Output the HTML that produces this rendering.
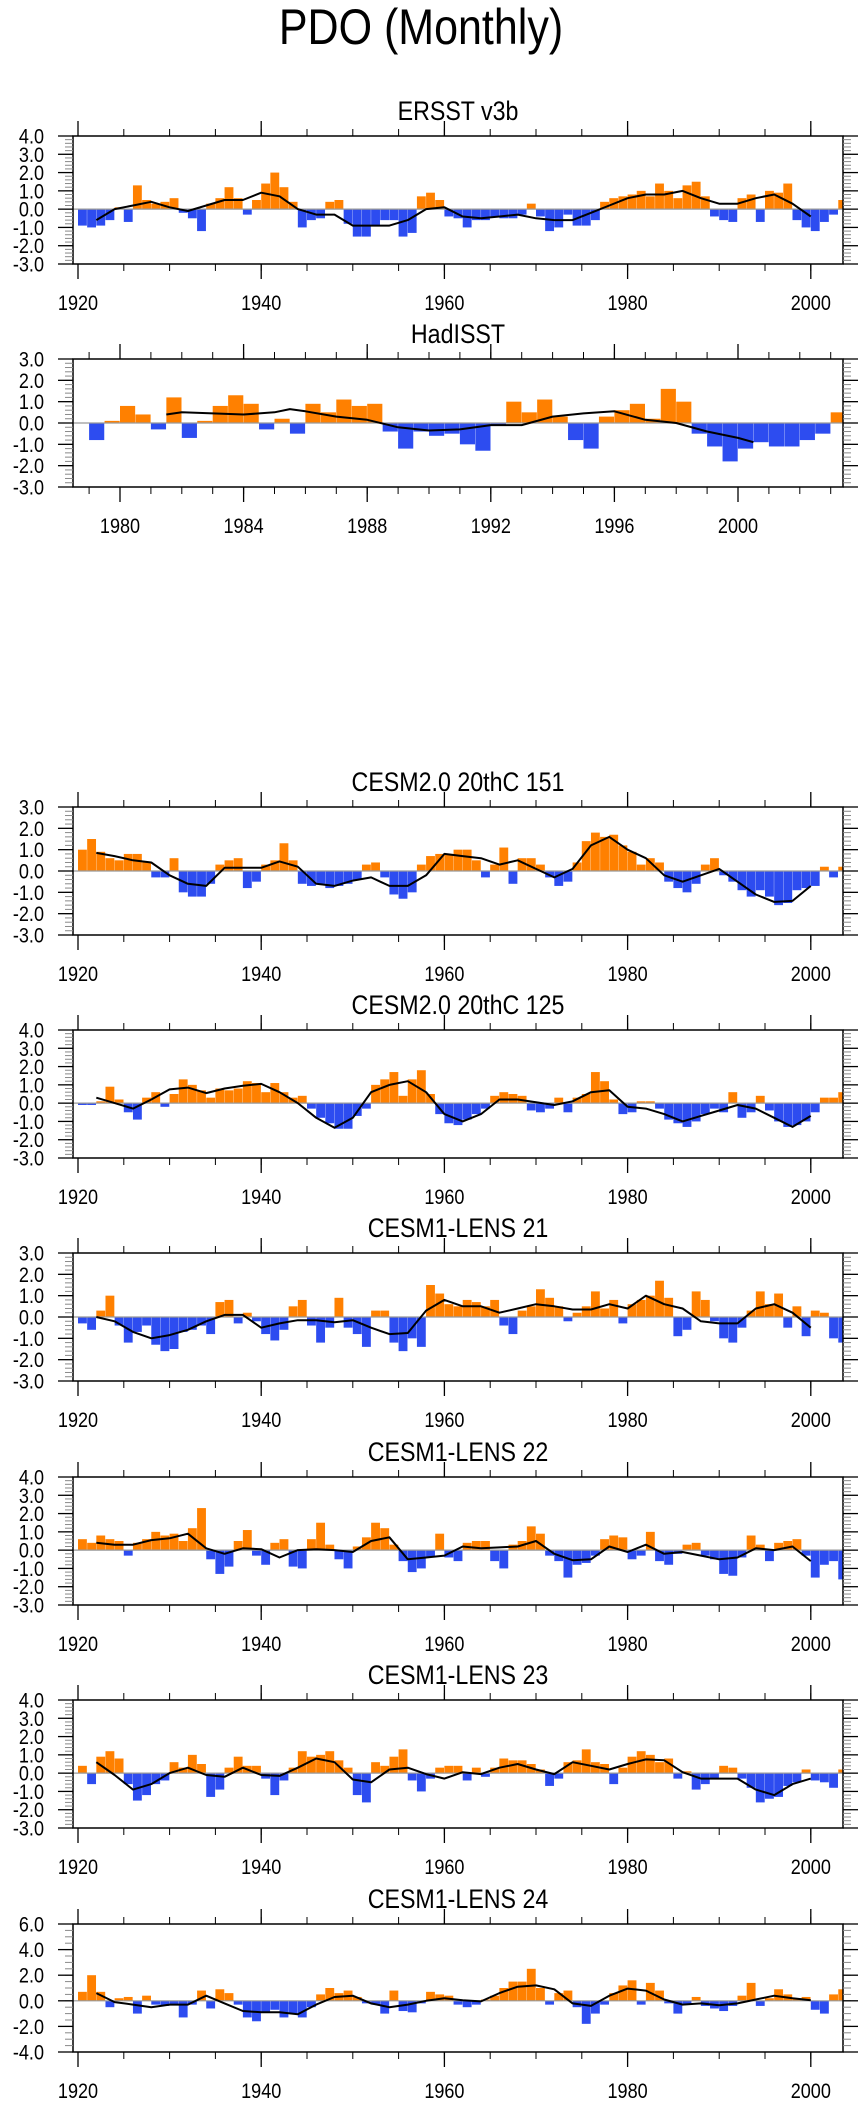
<!DOCTYPE html>
<html><head><meta charset="utf-8">
<style>
html,body{margin:0;padding:0;background:#fff;}
svg{display:block;}
text{font-family:"Liberation Sans",Arial,sans-serif;fill:#000;}
</style></head>
<body>
<svg id="chart" width="867" height="2107" viewBox="0 0 867 2107" xmlns="http://www.w3.org/2000/svg">
<text transform="translate(421,44) scale(0.86,1)" x="0" y="0" font-size="50" text-anchor="middle">PDO (Monthly)</text>
</svg>
<script>
// ---- data (annual / half-year bar values, smoothed line values) ----
const smoothYears = [1922,1924,1926,1928,1930,1932,1934,1936,1938,1940,1942,1944,1946,1948,1950,1952,1954,1956,1958,1960,1962,1964,1966,1968,1970,1972,1974,1976,1978,1980,1982,1984,1986,1988,1990,1992,1994,1996,1998,2000];

const ersstVals = [-0.9,-1.0,-0.9,-0.6,0.1,-0.7,1.3,0.5,0.3,0.4,0.6,-0.2,-0.5,-1.2,0.3,0.6,1.2,0.6,-0.3,0.5,1.4,2.0,1.2,0.4,-1.0,-0.6,-0.5,0.4,0.5,-0.8,-1.5,-1.5,-0.9,-0.6,-0.6,-1.5,-1.3,0.7,0.9,0.5,-0.4,-0.5,-1.0,-0.6,-0.6,-0.4,-0.5,-0.5,-0.3,0.3,-0.4,-1.2,-1.0,-0.3,-0.9,-0.9,-0.6,0.4,0.6,0.7,0.8,1.0,0.7,1.4,1.0,0.6,1.3,1.5,0.7,-0.4,-0.6,-0.7,0.6,0.8,-0.7,1.0,0.9,1.4,-0.6,-1.0,-1.2,-0.7,-0.3,0.5];
const ersstSmooth = [-0.6,0.0,0.2,0.4,0.1,-0.1,0.2,0.5,0.5,0.9,0.7,0.0,-0.3,-0.3,-0.9,-0.9,-0.9,-0.6,0.0,0.1,-0.4,-0.5,-0.4,-0.3,-0.5,-0.6,-0.6,-0.2,0.2,0.6,0.8,0.8,1.0,0.6,0.3,0.3,0.6,0.8,0.3,-0.4];

const hadYears = [1979.0,1979.5,1980.0,1980.5,1981.0,1981.5,1982.0,1982.5,1983.0,1983.5,1984.0,1984.5,1985.0,1985.5,1986.0,1986.5,1987.0,1987.5,1988.0,1988.5,1989.0,1989.5,1990.0,1990.5,1991.0,1991.5,1992.0,1992.5,1993.0,1993.5,1994.0,1994.5,1995.0,1995.5,1996.0,1996.5,1997.0,1997.5,1998.0,1998.5,1999.0,1999.5,2000.0,2000.5,2001.0,2001.5,2002.0,2002.5,2003.0];
const hadVals = [-0.8,0.1,0.8,0.4,-0.3,1.2,-0.7,0.1,0.8,1.3,0.9,-0.3,0.2,-0.5,0.9,0.5,1.1,0.8,0.9,-0.4,-1.2,-0.4,-0.6,-0.5,-1.0,-1.3,-0.1,1.0,0.5,1.1,0.3,-0.8,-1.2,0.3,0.6,0.9,0.2,1.6,1.0,-0.5,-1.1,-1.8,-1.2,-0.9,-1.1,-1.1,-0.8,-0.5,0.5];
const hadSmoothYears = [1981.5,1982,1983,1984,1985,1985.5,1986,1987,1988,1989,1990,1991,1992,1993,1994,1995,1996,1997,1998,1999,2000,2000.5];
const hadSmooth = [0.4,0.5,0.45,0.4,0.5,0.65,0.55,0.3,0.15,-0.2,-0.35,-0.3,-0.1,-0.1,0.3,0.45,0.55,0.15,0.0,-0.4,-0.7,-0.9];

const c151Vals = [1.0,1.5,0.9,0.6,0.5,0.8,0.8,0.4,-0.3,-0.3,0.6,-1.0,-1.2,-1.2,-0.6,0.3,0.5,0.6,-0.8,-0.5,0.3,0.5,1.3,0.5,-0.6,-0.7,-0.6,-0.8,-0.7,-0.6,-0.4,0.3,0.4,-0.3,-1.1,-1.3,-1.0,0.3,0.7,0.8,0.8,1.0,1.0,0.5,-0.3,0.3,1.1,-0.6,0.6,0.6,0.3,-0.3,-0.7,-0.5,0.4,1.4,1.8,1.6,1.7,1.2,0.9,0.3,0.6,0.4,-0.5,-0.8,-1.0,-0.6,0.3,0.6,-0.2,-0.5,-0.9,-1.2,-0.9,-1.2,-1.6,-1.5,-0.9,-0.8,-0.7,0.2,-0.3,0.2];
const c151Smooth = [0.85,0.7,0.5,0.4,-0.2,-0.6,-0.7,0.15,0.15,0.15,0.45,0.2,-0.6,-0.7,-0.45,-0.3,-0.7,-0.7,-0.2,0.8,0.7,0.6,0.3,0.5,0.1,-0.3,0.1,1.2,1.6,1.0,0.6,-0.2,-0.5,-0.2,0.1,-0.5,-1.1,-1.45,-1.4,-0.7];

const c125Vals = [-0.1,-0.1,0.1,0.9,0.2,-0.5,-0.9,0.3,0.6,-0.2,0.5,1.3,1.0,0.7,0.3,0.8,0.7,0.8,1.2,1.1,0.6,1.1,0.6,0.3,0.4,-0.3,-0.8,-1.1,-1.4,-1.4,-0.7,-0.3,1.0,1.3,1.7,0.4,1.3,1.8,0.5,-0.6,-1.1,-1.2,-0.9,-0.6,-0.3,0.4,0.6,0.5,0.4,-0.4,-0.5,-0.3,0.3,-0.5,0.3,0.5,1.7,1.2,0.2,-0.6,-0.5,0.1,0.1,-0.3,-0.9,-1.1,-1.3,-1.0,-0.6,-0.3,-0.5,0.6,-0.8,-0.5,0.4,-0.4,-1.0,-1.3,-1.2,-1.0,-0.5,0.3,0.3,0.6];
const c125Smooth = [0.3,0.0,-0.3,0.2,0.75,0.85,0.55,0.8,0.95,1.05,0.6,0.0,-0.8,-1.35,-0.8,0.6,1.0,1.2,0.6,-0.6,-1.0,-0.6,0.2,0.2,0.05,-0.1,0.1,0.6,0.7,-0.2,-0.3,-0.6,-1.0,-0.7,-0.4,-0.1,-0.3,-0.8,-1.3,-0.7];

const l21Vals = [-0.3,-0.6,0.3,1.0,-0.4,-1.2,-0.7,-0.4,-1.3,-1.6,-1.5,-0.7,-0.6,-0.4,-0.8,0.7,0.8,-0.3,0.2,-0.2,-0.8,-1.1,-0.6,0.5,0.8,-0.4,-1.2,-0.5,0.9,-0.5,-0.8,-1.4,0.3,0.3,-1.2,-1.6,-1.0,-1.4,1.5,1.1,0.6,0.5,0.8,0.7,0.5,0.8,-0.4,-0.8,0.3,0.5,1.3,0.9,0.5,-0.2,0.2,0.5,1.2,0.4,0.8,-0.3,0.6,0.8,1.0,1.7,0.9,-0.9,-0.6,1.2,0.8,-0.2,-1.0,-1.2,-0.5,0.3,1.2,0.6,1.1,-0.5,0.5,-0.9,0.3,0.2,-1.0,-1.2];
const l21Smooth = [0.0,-0.2,-0.7,-1.0,-0.85,-0.6,-0.2,0.1,0.1,-0.5,-0.3,-0.15,-0.15,-0.25,-0.15,-0.5,-0.8,-0.75,0.3,0.8,0.5,0.5,0.2,0.4,0.6,0.5,0.35,0.35,0.6,0.4,1.0,0.6,0.4,-0.2,-0.3,-0.3,0.4,0.6,0.2,-0.5];

const l22Vals = [0.6,0.4,0.8,0.6,0.5,-0.3,0.4,0.6,1.0,0.8,0.9,0.5,1.2,2.3,-0.5,-1.3,-0.9,0.5,1.1,-0.3,-0.8,0.4,0.6,-0.9,-1.0,0.6,1.5,0.3,-0.5,-1.0,0.2,0.7,1.5,1.2,0.3,-0.6,-1.2,-1.0,-0.4,0.9,-0.4,-0.6,0.4,0.5,0.5,-0.6,-1.0,0.3,0.5,1.3,0.9,-0.3,-0.6,-1.5,-0.8,-0.7,-0.3,0.6,0.8,0.7,-0.5,-0.3,1.0,-0.6,-0.8,-0.2,0.3,0.4,-0.3,-0.5,-1.3,-1.4,-0.4,0.8,0.3,-0.6,0.4,0.5,0.6,-0.3,-1.5,-0.8,-0.6,-1.6];
const l22Smooth = [0.4,0.3,0.3,0.55,0.65,0.9,0.1,-0.2,0.1,0.05,-0.4,0.0,0.05,0.0,-0.1,0.5,0.7,-0.5,-0.4,-0.3,0.2,0.1,0.15,0.2,0.5,-0.2,-0.55,-0.5,0.2,-0.1,0.3,-0.2,-0.1,-0.3,-0.5,-0.4,0.1,0.0,0.2,-0.6];

const l23Vals = [0.4,-0.6,0.9,1.2,0.8,-0.6,-1.5,-1.2,-0.6,-0.4,0.6,0.3,1.0,0.5,-1.3,-0.9,0.3,0.9,0.4,0.4,-0.3,-1.2,-0.4,0.3,1.2,0.9,1.0,1.2,0.7,0.3,-1.2,-1.6,0.6,0.4,0.9,1.3,-0.4,-1.0,-0.3,0.3,0.4,0.4,-0.4,0.3,-0.2,0.3,0.8,0.7,0.7,0.5,0.2,-0.7,-0.3,0.6,0.7,1.3,0.6,0.5,-0.6,0.3,0.9,1.2,1.0,0.6,0.8,-0.3,0.1,-0.9,-0.6,-0.3,0.4,0.3,-0.3,-0.8,-1.6,-1.4,-1.3,-0.7,-0.5,0.2,-0.4,-0.5,-0.8,0.2];
const l23Smooth = [0.6,-0.1,-0.9,-0.6,0.0,0.3,-0.1,-0.2,0.3,-0.1,-0.15,0.3,0.8,0.6,-0.35,-0.5,0.2,0.3,-0.05,-0.3,0.05,-0.05,0.3,0.5,0.2,-0.05,0.6,0.4,0.2,0.5,0.75,0.7,0.05,-0.3,-0.3,-0.3,-0.9,-1.2,-0.6,-0.3];

const l24Vals = [0.7,2.0,0.7,-0.5,0.2,0.3,-1.0,0.4,-0.3,-0.4,-0.3,-1.3,-0.3,0.8,-0.6,0.9,0.6,-0.3,-1.3,-1.6,-0.9,-0.7,-1.3,-1.0,-1.3,-0.5,0.5,1.0,0.6,0.8,0.3,-0.2,-0.3,-1.0,0.8,-0.8,-0.9,-0.2,0.7,0.5,0.4,-0.3,-0.5,-0.3,0.1,0.4,1.0,1.5,1.5,2.5,1.0,-0.3,0.6,0.8,-0.5,-1.8,-1.0,-0.3,0.6,1.2,1.6,-0.3,1.4,0.8,-0.2,-1.0,-0.3,0.3,-0.4,-0.6,-0.8,-0.4,0.4,1.4,-0.4,0.2,0.9,0.5,0.2,0.3,-0.7,-1.0,0.5,0.9];
const l24Smooth = [0.6,-0.1,-0.3,-0.5,-0.3,-0.3,0.4,-0.2,-0.8,-0.9,-0.9,-1.05,-0.3,0.3,0.4,-0.2,-0.5,-0.3,0.0,0.2,0.05,-0.05,0.6,1.1,1.2,0.9,-0.2,-0.4,0.4,0.95,0.8,0.1,-0.3,-0.2,-0.35,-0.2,0.1,0.4,0.2,0.05];

const yTicks1 = ["4.0","3.0","2.0","1.0","0.0","-1.0","-2.0","-3.0"];
const yTicks2 = ["3.0","2.0","1.0","0.0","-1.0","-2.0","-3.0"];
const yTicks3 = ["6.0","4.0","2.0","0.0","-2.0","-4.0"];
const xLabelsLong = ["1920","1940","1960","1980","2000"];
const xLabelsHad = ["1980","1984","1988","1992","1996","2000"];

// ---- drawing ----
const NS = "http://www.w3.org/2000/svg";
const svg = document.getElementById('chart');
const BL = 73, BR = 843, BH = 128;
function mk(tag, attrs, parent) {
  const e = document.createElementNS(NS, tag);
  for (const k in attrs) e.setAttribute(k, attrs[k]);
  (parent || svg).appendChild(e);
  return e;
}
function ctext(parent, x, y, size, anchor, str) {
  const t = mk('text', {transform: 'translate(' + x + ',' + y + ') scale(0.86,1)', x: 0, y: 0, 'font-size': size, 'text-anchor': anchor}, parent);
  t.textContent = str;
  return t;
}

function panel(cfg) {
  const g = mk('g', {});
  
  
  const top = cfg.top, bot = top + BH;
  const yTickVals = cfg.yLabels.map(Number);
  const ymax = Math.max(...yTickVals), ymin = Math.min(...yTickVals);
  const yS = v => top + (ymax - v) / (ymax - ymin) * BH;
  const xS = cfg.xScale;
  const t = ctext(g, (BL + BR) / 2, top - 16, 27, 'middle', cfg.title);
  
  
  const cid = 'clip-' + cfg.name;
  const cp = mk('clipPath', {id: cid}, g);
  mk('rect', {x: BL, y: top, width: BR - BL, height: BH}, cp);
  const bars = mk('g', {'clip-path': 'url(#' + cid + ')'}, g);
  
  
  const y0 = yS(0);
  for (let i = 0; i < cfg.vals.length; i++) {
    const v = cfg.vals[i];
    const x1 = xS(cfg.years[i]), x2 = xS(cfg.years[i] + cfg.step);
    const yv = yS(v);
    const r = mk('rect', {x: x1, y: Math.min(yv, y0), width: Math.max(0.5, x2 - x1 - 0.3), height: Math.abs(yv - y0), fill: v >= 0 ? '#ff8000' : '#2d4cf0'}, bars);
    
    
  }
  const zl = mk('line', {x1: BL, x2: BR, y1: y0, y2: y0, stroke: '#999', 'stroke-width': 1.2}, g);
  
  
  const pts = cfg.sYears.map((yr, i) => xS(yr).toFixed(1) + ',' + yS(cfg.sVals[i]).toFixed(1)).join(' ');
  const pl = mk('polyline', {points: pts, fill: 'none', stroke: '#000', 'stroke-width': 2, 'stroke-linejoin': 'round'}, g);
  
  
  const bx = mk('rect', {x: BL, y: top, width: BR - BL, height: BH, fill: 'none', stroke: '#000', 'stroke-width': 1.5}, g);
  
  
  for (const tk of cfg.xMinor) {
    const x = xS(tk);
    if (x < BL || x > BR) continue;
    mk('line', {x1: x, x2: x, y1: top, y2: top - 7, stroke: '#000', 'stroke-width': 1}, g);
    mk('line', {x1: x, x2: x, y1: bot, y2: bot + 7, stroke: '#000', 'stroke-width': 1}, g);
  }
  for (const lab of cfg.xLabels) {
    const x = xS(Number(lab));
    mk('line', {x1: x, x2: x, y1: top, y2: top - 15, stroke: '#000', 'stroke-width': 1.3}, g);
    mk('line', {x1: x, x2: x, y1: bot, y2: bot + 15, stroke: '#000', 'stroke-width': 1.3}, g);
    const tx = ctext(g, x, bot + 46, 21, 'middle', lab);
    
    
  }
  const minStep = cfg.yMinor;
  for (let v = ymin; v <= ymax + 1e-6; v += minStep) {
    const y = yS(v);
    mk('line', {x1: BL, x2: BL - 8, y1: y, y2: y, stroke: '#888', 'stroke-width': 1}, g);
    mk('line', {x1: BR, x2: BR + 8, y1: y, y2: y, stroke: '#888', 'stroke-width': 1}, g);
  }
  for (const lab of cfg.yLabels) {
    const y = yS(Number(lab));
    mk('line', {x1: BL, x2: BL - 15, y1: y, y2: y, stroke: '#000', 'stroke-width': 1.3}, g);
    mk('line', {x1: BR, x2: BR + 15, y1: y, y2: y, stroke: '#000', 'stroke-width': 1.3}, g);
    const ty = ctext(g, 44, y + 7.5, 21, 'end', lab);
    
    
  }
}

const longX = yr => 78 + (yr - 1920) * 9.16;
const hadX = yr => 120 + (yr - 1980) * 30.9;
const annual = n => Array.from({length: n}, (_, i) => 1920 + i);
const minorLong = Array.from({length: 18}, (_, i) => 1915 + i * 5);
const minorHad = Array.from({length: 27}, (_, i) => 1978 + i);

panel({name: 'ersst-v3b', title: 'ERSST v3b', top: 136, yLabels: yTicks1, yMinor: 0.2, xScale: longX, years: annual(ersstVals.length), step: 1, vals: ersstVals, sYears: smoothYears, sVals: ersstSmooth, xLabels: xLabelsLong, xMinor: minorLong});
panel({name: 'hadisst', title: 'HadISST', top: 359, yLabels: yTicks2, yMinor: 0.2, xScale: hadX, years: hadYears, step: 0.5, vals: hadVals, sYears: hadSmoothYears, sVals: hadSmooth, xLabels: xLabelsHad, xMinor: minorHad});
panel({name: 'cesm2-151', title: 'CESM2.0 20thC 151', top: 807, yLabels: yTicks2, yMinor: 0.2, xScale: longX, years: annual(c151Vals.length), step: 1, vals: c151Vals, sYears: smoothYears, sVals: c151Smooth, xLabels: xLabelsLong, xMinor: minorLong});
panel({name: 'cesm2-125', title: 'CESM2.0 20thC 125', top: 1030, yLabels: yTicks1, yMinor: 0.2, xScale: longX, years: annual(c125Vals.length), step: 1, vals: c125Vals, sYears: smoothYears, sVals: c125Smooth, xLabels: xLabelsLong, xMinor: minorLong});
panel({name: 'cesm1-lens-21', title: 'CESM1-LENS 21', top: 1253, yLabels: yTicks2, yMinor: 0.2, xScale: longX, years: annual(l21Vals.length), step: 1, vals: l21Vals, sYears: smoothYears, sVals: l21Smooth, xLabels: xLabelsLong, xMinor: minorLong});
panel({name: 'cesm1-lens-22', title: 'CESM1-LENS 22', top: 1477, yLabels: yTicks1, yMinor: 0.2, xScale: longX, years: annual(l22Vals.length), step: 1, vals: l22Vals, sYears: smoothYears, sVals: l22Smooth, xLabels: xLabelsLong, xMinor: minorLong});
panel({name: 'cesm1-lens-23', title: 'CESM1-LENS 23', top: 1700, yLabels: yTicks1, yMinor: 0.2, xScale: longX, years: annual(l23Vals.length), step: 1, vals: l23Vals, sYears: smoothYears, sVals: l23Smooth, xLabels: xLabelsLong, xMinor: minorLong});
panel({name: 'cesm1-lens-24', title: 'CESM1-LENS 24', top: 1924, yLabels: yTicks3, yMinor: 0.5, xScale: longX, years: annual(l24Vals.length), step: 1, vals: l24Vals, sYears: smoothYears, sVals: l24Smooth, xLabels: xLabelsLong, xMinor: minorLong});
</script>
</body></html>
